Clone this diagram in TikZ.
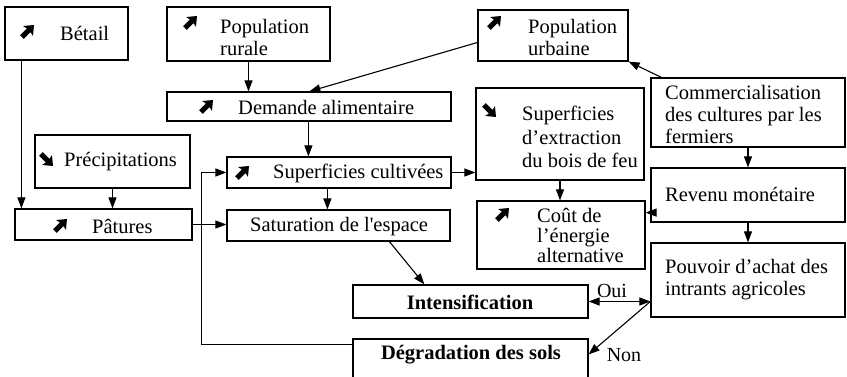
\documentclass[tikz,border=0pt]{standalone}
\usepackage{fontspec}
\setmainfont{Liberation Serif}
\usetikzlibrary{calc,arrows.meta}
\newcommand\bx[5]{\node[box, minimum width={#4-#2}, minimum height={#5-#3}] (#1) at ({(#2+#4)/2},{(#3+#5)/2}) {};}
\begin{document}
\begin{tikzpicture}[x=1pt,y=-1pt,
  box/.style={draw, line width=1.2pt, inner sep=0pt, rectangle},
  txt/.style={inner sep=0pt, anchor=west, align=left, font=\fontsize{20.5}{22}\selectfont},
  btxt/.style={inner sep=0pt, font=\fontsize{20.5}{22}\selectfont\bfseries},
  arr/.style={line width=1.1pt, -{Triangle[length=11pt,width=8pt]}},
  lbl/.style={inner sep=0pt, font=\fontsize{20}{22}\selectfont},
  hvy/.pic={\fill (-8.5,-2.6) -- (1,-2.6) -- (0,-7) -- (8.5,0) -- (0,7) -- (1,2.6) -- (-8.5,2.6) -- cycle;}
  ]
\useasboundingbox (0,0) rectangle (847,377);
% boxes
\bx{betail}{5}{7}{128}{60}
\bx{poprur}{167}{7}{330}{61}
\bx{popurb}{478}{10}{628}{61}
\bx{demande}{167}{92}{451}{121}
\bx{extraction}{476}{88}{644}{180}
\bx{comm}{651}{78}{845}{147}
\bx{precip}{35}{135}{190}{188}
\bx{supcult}{227}{157}{451}{188}
\bx{pature}{15}{209}{192}{240}
\bx{satur}{227}{210}{450}{241}
\bx{cout}{477}{201}{645}{269}
\bx{revenu}{651}{168}{845}{222}
\bx{pouvoir}{651}{243}{845}{317}
\bx{inten}{353}{285}{588}{318}
\bx{degrad}{353}{339}{588}{385}
% heavy arrow symbols
\pic[rotate=45] at (28,31) {hvy};
\pic[rotate=45] at (191,22) {hvy};
\pic[rotate=45] at (495,22) {hvy};
\pic[rotate=45] at (207,106) {hvy};
\pic[rotate=-45] at (490,111) {hvy};
\pic[rotate=-45] at (47,160) {hvy};
\pic[rotate=45] at (243,172) {hvy};
\pic[rotate=45] at (61,225) {hvy};
\pic[rotate=45] at (503,214) {hvy};
% texts
\node[txt] (tbetail) at (60,33) {Bétail};
\node[txt] (tpoprur) at (220,37) {Population\\rurale};
\node[txt] (tpopurb) at (528,37) {Population\\urbaine};
\node[txt] (tdemande) at (238,107) {Demande alimentaire};
\node[txt,font=\fontsize{20.5}{23.5}\selectfont] (textr) at (522,137) {Superficies\\d'extraction\\du bois de feu};
\node[txt] (tcomm) at (665,114) {Commercialisation\\des cultures par les\\fermiers};
\node[txt] (tprecip) at (64,162) {Précipitations};
\node[txt] (tsupcult) at (273,173) {Superficies cultivées};
\node[txt] (tpature) at (92,226) {Pâtures};
\node[txt] (tsatur) at (250,227) {Saturation de l\textquotesingle espace};
\node[txt,font=\fontsize{20.5}{20}\selectfont] (tcout) at (537,235) {Coût de\\l'énergie\\alternative};
\node[txt] (trevenu) at (665,194) {Revenu monétaire};
\node[txt] (tpouvoir) at (665,280) {Pouvoir d'achat des\\intrants agricoles};
\node[btxt] (tinten) at (470,302) {Intensification};
\node[btxt] (tdegrad) at (471,355) {Dégradation des sols};
% connectors
\draw[arr] ($(betail.south west)+(17,0)$) coordinate (b1) -- (b1 |- pature.north);
\draw[arr] (precip.south) -- (precip.south |- pature.north);
\draw[arr] (poprur.south) -- (poprur.south |- demande.north);
\draw[arr] ($(popurb.west)+(0,7)$) -- ($(demande.north west)+(143,0)$);
\draw[arr] ($(demande.south west)+(142,0)$) coordinate (c1) -- (c1 |- supcult.north);
\draw[arr] (supcult.east) -- (supcult.east -| extraction.west);
\draw[arr] ($(supcult.south west)+(101,0)$) coordinate (c2) -- (c2 |- satur.north);
\draw[arr] (pature.east) -- (pature.east -| satur.west);
\draw[arr] ($(degrad.north west)+(0,6)$) -| ($(supcult.west)+(-25,0)$) -- (supcult.west);
\draw[arr] ($(satur.south west)+(163,0)$) -- ($(inten.north west)+(72,0)$);
\draw[arr] (extraction.south) -- (extraction.south |- cout.north);
\draw[arr] ($(comm.north west)+(11,0)$) -- (popurb.south east);
\draw[arr] (comm.south) -- (comm.south |- revenu.north);
\draw[arr] ($(revenu.south west)+(0,-10)$) coordinate (c3) -- (c3 -| cout.east);
\draw[arr] (revenu.south) -- (revenu.south |- pouvoir.north);
\draw[line width=1.1pt, {Triangle[length=11pt,width=8pt]}-{Triangle[length=11pt,width=8pt]}] (inten.east) -- (inten.east -| pouvoir.west) coordinate (c4);
\node[lbl] (loui) at (612,291) {Oui};
\draw[arr] (c4) -- ($(degrad.north east)+(0,16)$);
\node[lbl] (lnon) at (624,355) {Non};
\end{tikzpicture}
\end{document}
